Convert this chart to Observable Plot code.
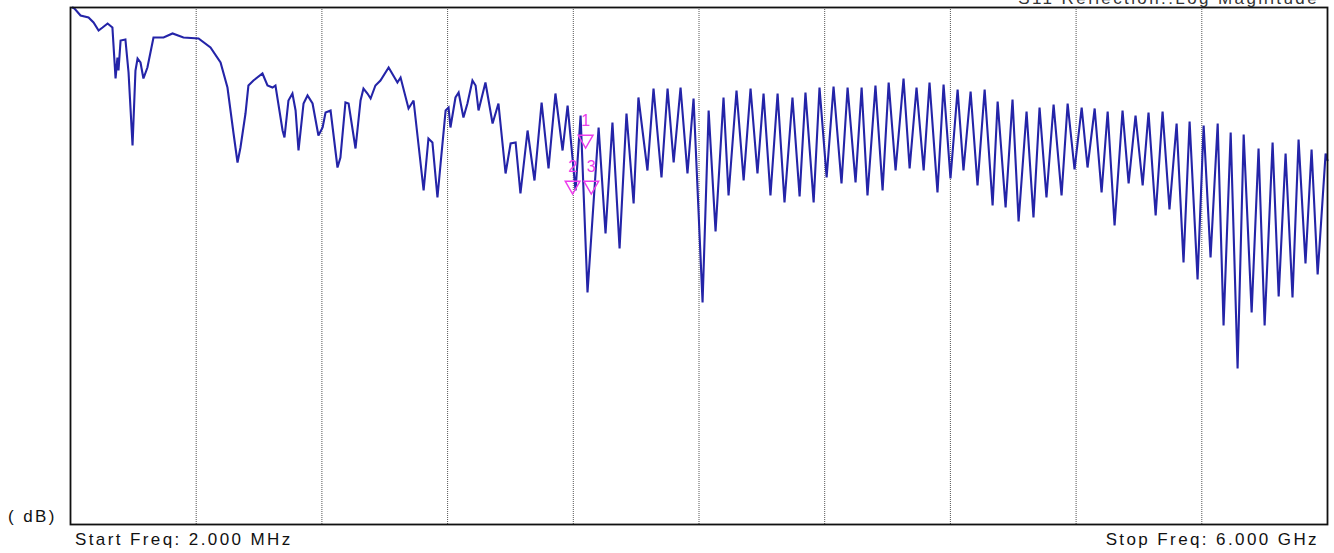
<!DOCTYPE html>
<html>
<head>
<meta charset="utf-8">
<script src="https://cdn.jsdelivr.net/npm/d3@7"></script>
<script src="https://cdn.jsdelivr.net/npm/@observablehq/plot@0.6"></script>
<style>
  html, body { margin: 0; padding: 0; background: #fff; overflow: hidden; }
  #wrap { position: relative; width: 1334px; height: 553px; }
  .lbl { position: absolute; font-family: "Liberation Sans", Arial, sans-serif; font-size: 17px;
         line-height: 17px; letter-spacing: 2.4px; color: #111; white-space: nowrap; }
</style>
</head>
<body>
<div id="wrap"></div>
<script>
// Trace: S11 reflection, log magnitude
const freqMHz = [
  12, 21, 50, 88, 112, 136, 155, 179, 202, 217,
  226, 231, 241, 264, 279, 298, 312, 322, 336, 350,
  369, 398, 422, 446, 489, 541, 613, 670, 718, 751,
  780, 799, 813, 837, 851, 875, 918, 942, 966, 980,
  1014, 1023, 1042, 1061, 1076, 1090, 1114, 1133, 1157, 1185,
  1205, 1219, 1243, 1276, 1290, 1314, 1329, 1362, 1386, 1400,
  1419, 1434, 1457, 1481, 1520, 1562, 1577, 1615, 1639, 1663,
  1687, 1710, 1729, 1753, 1768, 1792, 1806, 1815, 1839, 1854,
  1877, 1896, 1920, 1935, 1949, 1982, 2016, 2044, 2078, 2102,
  2126, 2149, 2183, 2216, 2250, 2283, 2316, 2350, 2374, 2412,
  2436, 2469, 2522, 2555, 2588, 2622, 2655, 2689, 2712, 2755,
  2784, 2822, 2851, 2880, 2913, 2946, 2975, 3018, 3047, 3080,
  3118, 3142, 3180, 3214, 3247, 3280, 3309, 3342, 3376, 3409,
  3447, 3481, 3509, 3548, 3576, 3610, 3643, 3681, 3710, 3748,
  3777, 3805, 3843, 3877, 3906, 3939, 3977, 4006, 4039, 4073,
  4101, 4139, 4168, 4201, 4235, 4263, 4297, 4330, 4364, 4402,
  4426, 4464, 4497, 4526, 4564, 4597, 4626, 4659, 4693, 4731,
  4760, 4793, 4827, 4855, 4889, 4922, 4951, 4984, 5022, 5051,
  5084, 5118, 5146, 5180, 5213, 5246, 5280, 5313, 5342, 5380,
  5409, 5442, 5476, 5504, 5538, 5571, 5600, 5638, 5671, 5700,
  5738, 5767, 5800, 5833, 5862, 5895, 5924, 5953, 5991, 6000
];
const magDb = [
  0, -0.1, -0.8, -1.0, -1.5, -2.3, -2.0, -1.6, -2.0, -7.1,
  -5.0, -6.3, -3.3, -3.2, -6.5, -13.8, -6.3, -5.1, -5.5, -7.1,
  -6.0, -3.0, -3.0, -3.0, -2.6, -3.0, -3.1, -4.0, -5.5, -8.0,
  -12.6, -15.5, -14.0, -10.6, -7.8, -7.3, -6.6, -7.8, -8.0, -7.8,
  -12.3, -13.0, -9.3, -8.6, -10.3, -14.3, -9.6, -8.8, -9.6, -12.8,
  -12.0, -10.5, -10.3, -16.0, -15.0, -9.5, -9.6, -14.1, -9.3, -8.1,
  -8.6, -9.1, -7.8, -7.3, -6.0, -7.5, -7.0, -10.1, -9.3, -13.8,
  -18.3, -13.1, -13.5, -19.0, -15.6, -10.3, -10.0, -12.0, -9.0, -8.5,
  -11.0, -9.6, -7.3, -7.8, -10.3, -7.5, -11.6, -9.6, -16.6, -13.6,
  -13.5, -18.6, -12.3, -17.3, -9.5, -16.1, -8.6, -14.3, -9.8, -18.3,
  -10.8, -28.5, -12.0, -22.6, -11.5, -24.1, -10.6, -19.6, -9.0, -16.3,
  -8.1, -17.0, -8.1, -15.5, -8.0, -16.6, -9.1, -29.5, -10.3, -22.4,
  -9.0, -18.8, -8.3, -17.3, -8.1, -16.6, -8.6, -18.8, -8.6, -19.5,
  -9.0, -18.9, -8.5, -19.5, -8.0, -17.0, -7.9, -17.6, -8.0, -17.5,
  -8.0, -18.8, -7.8, -18.3, -7.5, -16.3, -7.1, -16.1, -8.0, -16.3,
  -7.5, -18.5, -7.7, -17.1, -8.2, -16.3, -8.4, -17.8, -8.2, -19.8,
  -9.4, -20.0, -9.2, -21.4, -10.4, -21.0, -10.0, -19.0, -9.7, -18.8,
  -9.6, -16.2, -10.0, -16.0, -10.1, -18.5, -10.4, -21.8, -10.3, -17.6,
  -10.8, -17.8, -10.5, -20.8, -10.4, -20.2, -11.6, -25.5, -11.4, -27.2,
  -11.8, -25.0, -11.6, -31.8, -12.5, -36.1, -12.7, -30.5, -14.1, -31.8,
  -13.5, -28.9, -14.6, -29.0, -13.2, -25.6, -14.2, -26.7, -14.6, -15.3
];

// Markers
const markerIds = ["1", "2", "3"];
const markerFreq = [2460, 2398, 2487];
const markerDb = [-13.2, -17.8, -17.8];

// Texts
const startLabel = "Start Freq: 2.000 MHz";
const stopLabel = "Stop Freq: 6.000 GHz";
const unitLabel = "( dB)";
const traceTitle = "S11 Reflection::Log Magnitude";

const startF = 2, stopF = 6000, divisions = 10;

const trace = freqMHz.map((f, i) => ({f, db: magDb[i]}));
const markers = markerIds.map((id, i) => ({id, f: markerFreq[i], db: markerDb[i]}));
const grid = d3.range(1, divisions).map(i => startF + i * (stopF - startF) / divisions);

const chart = Plot.plot({
  width: 1334,
  height: 553,
  marginLeft: 70,
  marginRight: 7,
  marginTop: 7,
  marginBottom: 29,
  x: {domain: [startF, stopF], axis: null},
  y: {domain: [-51.7, 0], axis: null},
  style: {background: "#fff"},
  marks: [
    Plot.ruleX(grid, {stroke: "#555", strokeWidth: 1, strokeDasharray: "1,1"}),
    Plot.line(trace, {x: "f", y: "db", stroke: "#2424a8", strokeWidth: 2.1, strokeLinejoin: "miter", strokeMiterlimit: 3}),
    Plot.dot(markers, {x: "f", y: "db", symbol: "triangle", rotate: 180, r: 5.5,
      stroke: "#ec3cec", strokeWidth: 1.4, fill: "none"}),
    Plot.text(markers, {x: "f", y: "db", text: "id", dy: -19, fill: "#ec3cec",
      fontSize: 16, fontFamily: "Liberation Sans, Arial, sans-serif"}),
    Plot.frame({stroke: "#111", strokeWidth: 1.8})
  ]
});

const wrap = document.getElementById("wrap");
wrap.appendChild(chart);

function addLabel(text, css) {
  const d = document.createElement("div");
  d.className = "lbl";
  d.textContent = text;
  Object.assign(d.style, css);
  wrap.appendChild(d);
}
addLabel(unitLabel, {left: "8px", top: "508px"});
addLabel(startLabel, {left: "75px", top: "531px"});
addLabel(stopLabel, {right: "15px", top: "531px"});
addLabel(traceTitle, {right: "15px", top: "-10px", color: "#333"});
</script>
</body>
</html>
